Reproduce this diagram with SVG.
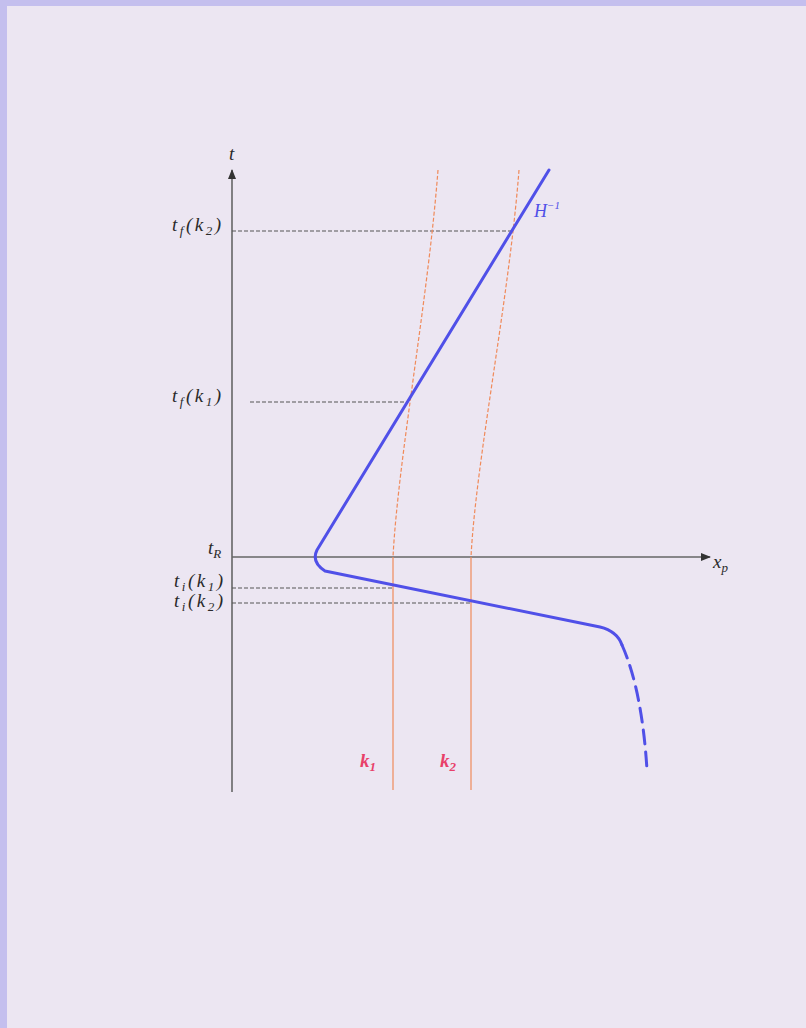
<svg xmlns="http://www.w3.org/2000/svg" width="806" height="1028" viewBox="0 0 806 1028">
<defs>
<style>
.lbl{font-family:"Liberation Serif",serif;font-style:italic;fill:#2a2a2a;font-size:19px}
.wide{letter-spacing:2.5px}
.sub{font-size:13px}
.axis{stroke:#666;stroke-width:1.6;fill:none}
.dash{stroke:#555;stroke-width:1;stroke-dasharray:4 2;fill:none}
.blue{stroke:#5050e8;stroke-width:3;fill:none;stroke-linecap:round;stroke-linejoin:round}
.ora{stroke:#f08a5a;stroke-width:1.2;fill:none}
.red{font-family:"Liberation Serif",serif;font-style:italic;font-weight:bold;fill:#e8406a;font-size:19px}
</style>
<marker id="ah" viewBox="0 0 10 10" refX="9" refY="5" markerWidth="12" markerHeight="10" orient="auto" markerUnits="userSpaceOnUse"><path d="M0,1 L10,5 L0,9 Z" fill="#333"/></marker>
</defs>
<rect x="0" y="0" width="806" height="1028" fill="#c4bfee"/>
<rect x="7" y="6" width="799" height="1022" fill="#ece6f2"/>
<g id="connectors">
<line class="axis" x1="232" y1="792" x2="232" y2="170" marker-end="url(#ah)"/>
<line class="axis" x1="232" y1="557" x2="710" y2="557" marker-end="url(#ah)"/>
<line class="dash" x1="232" y1="231" x2="512" y2="231"/>
<line class="dash" x1="250" y1="402" x2="408" y2="402"/>
<line class="dash" x1="232" y1="588" x2="392" y2="588"/>
<line class="dash" x1="232" y1="603" x2="470" y2="603"/>
</g>
<g id="k1">
<path class="ora" stroke-dasharray="4 2" d="M438,170 C428,300 398,460 393,557"/>
<line class="ora" x1="393" y1="557" x2="393" y2="790"/>
<text class="red" x="360" y="767">k<tspan class="sub" dy="4">1</tspan></text>
</g>
<g id="k2">
<path class="ora" stroke-dasharray="4 2" d="M519,170 C509,300 476,460 471,557"/>
<line class="ora" x1="471" y1="557" x2="471" y2="790"/>
<text class="red" x="440" y="767">k<tspan class="sub" dy="4">2</tspan></text>
</g>
<g id="hubble">
<path class="blue" d="M549,170 L317,550 Q311,562 325,571 L600,627 Q617,631 622,645"/>
<path class="blue" stroke-dasharray="14 8" d="M622,645 Q642,690 647,770"/>
<text x="534" y="217" font-family="Liberation Serif,serif" font-style="italic" font-size="18" fill="#5050e8">H<tspan font-size="11" dy="-8">−1</tspan></text>
</g>
<g id="labels">
<text class="lbl" x="229" y="160">t</text>
<text class="lbl" x="713" y="568">x<tspan class="sub" dy="4">p</tspan></text>
<text class="lbl wide" x="172" y="231">t<tspan class="sub" dy="4">f</tspan><tspan dy="-4">(k</tspan><tspan class="sub" dy="4">2</tspan><tspan dy="-4">)</tspan></text>
<text class="lbl wide" x="172" y="402">t<tspan class="sub" dy="4">f</tspan><tspan dy="-4">(k</tspan><tspan class="sub" dy="4">1</tspan><tspan dy="-4">)</tspan></text>
<text class="lbl" x="208" y="554">t<tspan class="sub" dy="4">R</tspan></text>
<text class="lbl wide" x="174" y="587">t<tspan class="sub" dy="4">i</tspan><tspan dy="-4">(k</tspan><tspan class="sub" dy="4">1</tspan><tspan dy="-4">)</tspan></text>
<text class="lbl wide" x="174" y="607">t<tspan class="sub" dy="4">i</tspan><tspan dy="-4">(k</tspan><tspan class="sub" dy="4">2</tspan><tspan dy="-4">)</tspan></text>
</g>
</svg>
